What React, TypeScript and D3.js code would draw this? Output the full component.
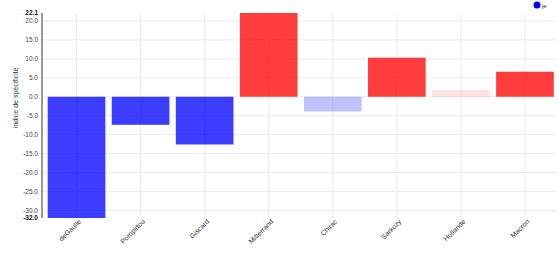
import React from "react";
import * as d3 from "d3";

// Presidents and their specificity index for the word "je"
const presidents = ["deGaulle", "Pompidou", "Giscard", "Mitterrand", "Chirac", "Sarkozy", "Hollande", "Macron"];
const indices = [-32.0, -7.4, -12.6, 22.1, -3.9, 10.3, 1.8, 6.6];
const yTicks = [-30, -25, -20, -15, -10, -5, 0, 5, 10, 15, 20];
const yMin = -32.0;
const yMax = 22.1;
const legendLabel = "je";
const yTitle = "indice de spécificité";

const W = 559;
const H = 261;
const FONT = "'Liberation Sans', Arial, sans-serif";

// strong colour above the significance threshold, faded below it
function barFill(v: number): string {
  const base = v >= 0 ? "#ff0000" : "#0000ff";
  const op = Math.abs(v) >= 5 ? 0.76 : Math.abs(v) / 16;
  const c = d3.color(base)!;
  c.opacity = op;
  return c.formatRgb();
}

export default function App() {
  const x = d3.scaleBand<string>().domain(presidents).range([44.5, 557]).paddingInner(0.1).paddingOuter(0.05);
  const y = d3.scaleLinear().domain([yMin, yMax]).range([218, 13]);
  const axisX = 42;
  const gridRight = 557;

  return (
    <svg width={W} height={H} style={{ position: "absolute", left: 0, top: 0, background: "#fff" }} fontFamily={FONT}>
      {/* grid */}
      {yTicks.map((t) => (
        <line key={"h" + t} x1={axisX} x2={gridRight} y1={y(t)} y2={y(t)} stroke="#ebebeb" strokeWidth={1} />
      ))}
      {presidents.map((p) => {
        const cx = x(p)! + x.bandwidth() / 2;
        return <line key={"v" + p} x1={cx} x2={cx} y1={y(yMax)} y2={y(yMin)} stroke="#ebebeb" strokeWidth={1} />;
      })}

      {/* bars */}
      {presidents.map((p, i) => {
        const v = indices[i];
        const y0 = y(Math.max(0, v));
        const y1 = y(Math.min(0, v));
        return (
          <rect key={p} x={x(p)} y={y0} width={x.bandwidth()} height={y1 - y0} fill={barFill(v)} />
        );
      })}

      {/* y axis */}
      <line x1={axisX} x2={axisX} y1={y(yMax)} y2={y(yMin)} stroke="#999" strokeWidth={2} />
      {yTicks.map((t) => (
        <text key={"t" + t} x={axisX - 4} y={y(t)} dy="0.35em" textAnchor="end" fontSize={6.5} fill="#444">
          {t.toFixed(1)}
        </text>
      ))}
      {[yMax, yMin].map((t) => (
        <text key={"e" + t} x={axisX - 4} y={y(t)} dy="0.35em" textAnchor="end" fontSize={6.5} fontWeight="bold" fill="#111">
          {t.toFixed(1)}
        </text>
      ))}
      <text transform={`translate(18,${y(0) + 1}) rotate(-90)`} textAnchor="middle" fontSize={7} fill="#333">
        {yTitle}
      </text>

      {/* x labels */}
      {presidents.map((p) => {
        const cx = x(p)! + x.bandwidth() / 2;
        return (
          <text key={"l" + p} transform={`translate(${cx + 5},${222}) rotate(-45)`} textAnchor="end" fontSize={7} fill="#333">
            {p}
          </text>
        );
      })}

      {/* legend */}
      <circle cx={537} cy={5} r={3.5} fill="#0000ff" />
      <text x={542} y={7.5} fontSize={6} fill="#333">{legendLabel}</text>
    </svg>
  );
}
